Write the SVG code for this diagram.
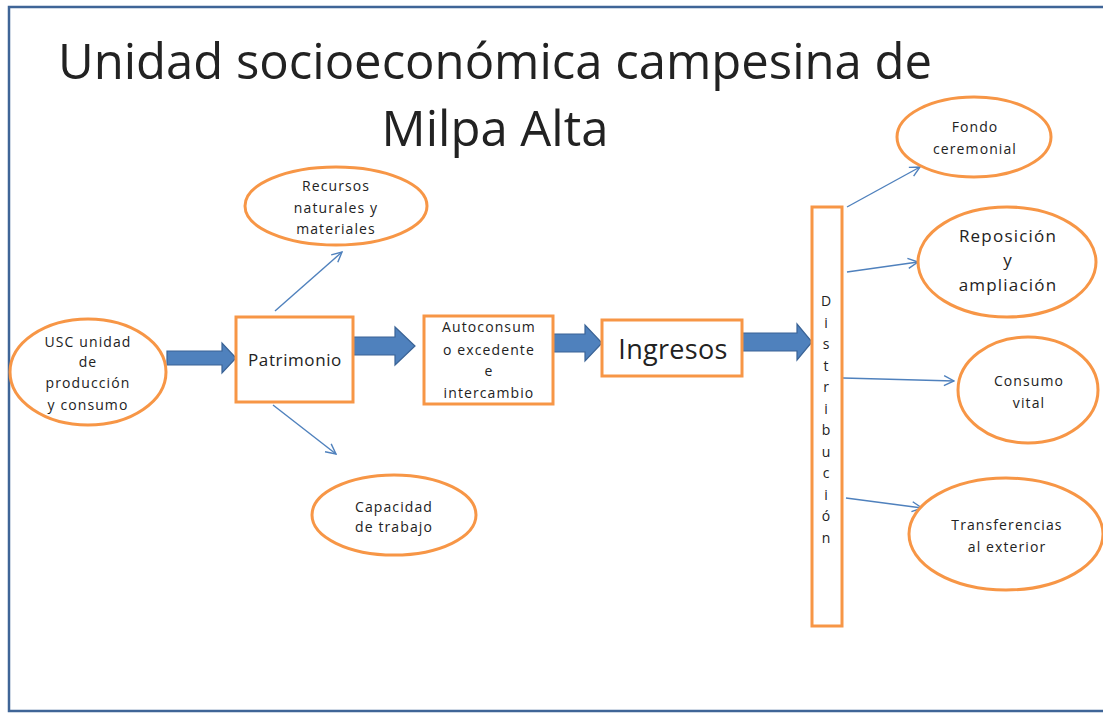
<svg xmlns="http://www.w3.org/2000/svg" width="1103" height="714" viewBox="0 0 1103 714">
<style>
.node{fill:#fff;stroke:#f79646;stroke-width:3}
.t{font-family:"Open Sans","Liberation Sans",sans-serif;fill:#222;text-anchor:middle}
.s{font-size:14px;letter-spacing:1.1px}
.thin{stroke:#4f81bd;stroke-width:1.4;fill:none;marker-end:url(#open)}
.fat{fill:#4f81bd;stroke:#3a6396;stroke-width:1.2}
</style>
<defs>
<marker id="open" viewBox="0 0 12 12" refX="11" refY="6" markerWidth="12" markerHeight="12" markerUnits="userSpaceOnUse" orient="auto">
<path d="M1,1 L11,6 L1,11" fill="none" stroke="#4f81bd" stroke-width="1.4"/>
</marker>
</defs>
<rect width="1103" height="714" fill="#fff"/>
<path d="M1103,7 H9 V711 H1103" fill="none" stroke="#3f6597" stroke-width="2.5"/>
<g id="title">
<text class="t" x="495" y="79" font-size="49">Unidad socioeconómica campesina de</text>
<text class="t" x="495" y="146" font-size="49">Milpa Alta</text>
</g>
<g id="connectors">
<polygon class="fat" points="167,351 222,351 222,343 236,358 222,373 222,365 167,365"/>
<polygon class="fat" points="353,337 395,337 395,327 415,346 395,365 395,355 353,355"/>
<polygon class="fat" points="553,334 585,334 585,325 602,343 585,361 585,352 553,352"/>
<polygon class="fat" points="742,333 797,333 797,324 812,342 797,360 797,351 742,351"/>
<line class="thin" x1="275" y1="311" x2="342" y2="252"/>
<line class="thin" x1="273" y1="405" x2="336" y2="454"/>
<line class="thin" x1="847" y1="207" x2="920" y2="167"/>
<line class="thin" x1="847" y1="272" x2="918" y2="262"/>
<line class="thin" x1="843" y1="378" x2="954" y2="381"/>
<line class="thin" x1="846" y1="498" x2="922" y2="508"/>
</g>
<g id="usc">
<ellipse class="node" cx="88" cy="372" rx="78" ry="53"/>
<text class="t s"><tspan x="88" y="347">USC unidad</tspan><tspan x="88" y="367">de</tspan><tspan x="88" y="388">producción</tspan><tspan x="88" y="410">y consumo</tspan></text>
</g>
<g id="patrimonio">
<rect class="node" x="236" y="317" width="117" height="85"/>
<text class="t" x="295" y="366" font-size="17" letter-spacing="0.6">Patrimonio</text>
</g>
<g id="recursos">
<ellipse class="node" cx="336" cy="206" rx="91" ry="39"/>
<text class="t s"><tspan x="336" y="191">Recursos</tspan><tspan x="336" y="213">naturales y</tspan><tspan x="336" y="234">materiales</tspan></text>
</g>
<g id="capacidad">
<ellipse class="node" cx="394" cy="515" rx="82" ry="40"/>
<text class="t s"><tspan x="394" y="512">Capacidad</tspan><tspan x="394" y="532">de trabajo</tspan></text>
</g>
<g id="autoconsumo">
<rect class="node" x="424" y="316" width="129" height="88"/>
<text class="t s"><tspan x="489" y="332">Autoconsum</tspan><tspan x="489" y="355">o excedente</tspan><tspan x="489" y="376">e</tspan><tspan x="489" y="398">intercambio</tspan></text>
</g>
<g id="ingresos">
<rect class="node" x="602" y="320" width="140" height="56"/>
<text class="t" x="673" y="359" font-size="27" letter-spacing="0.3">Ingresos</text>
</g>
<g id="distribucion">
<rect class="node" x="812" y="207" width="30" height="419"/>
<text class="t" font-size="14"><tspan x="826" y="306">D</tspan><tspan x="826" dy="21.5">i</tspan><tspan x="826" dy="21.5">s</tspan><tspan x="826" dy="21.5">t</tspan><tspan x="826" dy="21.5">r</tspan><tspan x="826" dy="21.5">i</tspan><tspan x="826" dy="21.5">b</tspan><tspan x="826" dy="21.5">u</tspan><tspan x="826" dy="21.5">c</tspan><tspan x="826" dy="21.5">i</tspan><tspan x="826" dy="21.5">ó</tspan><tspan x="826" dy="21.5">n</tspan></text>
</g>
<g id="fondo">
<ellipse class="node" cx="974" cy="137" rx="77" ry="40"/>
<text class="t s"><tspan x="975" y="132">Fondo</tspan><tspan x="975" y="154">ceremonial</tspan></text>
</g>
<g id="reposicion">
<ellipse class="node" cx="1007" cy="262" rx="89" ry="55"/>
<text class="t" font-size="17" letter-spacing="1.2"><tspan x="1008" y="242">Reposición</tspan><tspan x="1008" y="266">y</tspan><tspan x="1008" y="291">ampliación</tspan></text>
</g>
<g id="consumo">
<ellipse class="node" cx="1028" cy="390" rx="70" ry="53"/>
<text class="t s"><tspan x="1029" y="386">Consumo</tspan><tspan x="1029" y="408">vital</tspan></text>
</g>
<g id="transferencias">
<ellipse class="node" cx="1006" cy="534" rx="97" ry="56"/>
<text class="t s"><tspan x="1007" y="530">Transferencias</tspan><tspan x="1007" y="552">al exterior</tspan></text>
</g>
</svg>
